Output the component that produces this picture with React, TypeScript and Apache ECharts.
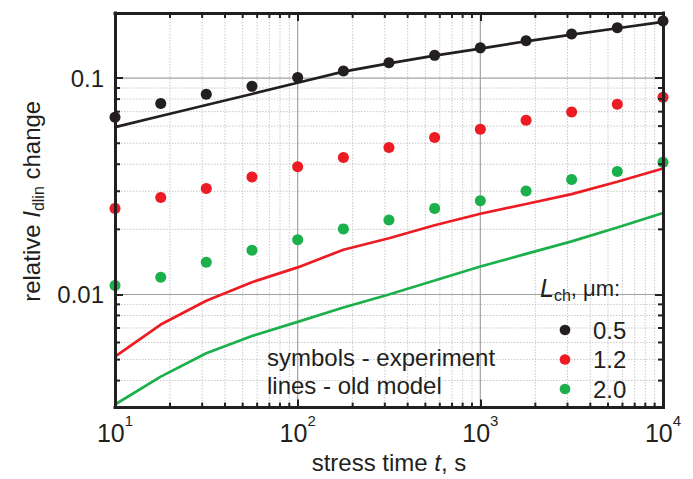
import React, { useEffect, useRef } from 'react';
import * as echarts from 'echarts';

// stress time t, s (quarter-decade steps)
const stressTime = [10, 17.8, 31.6, 56.2, 100, 178, 316, 562, 1000, 1780, 3160, 5620, 10000];

// symbols - experiment (relative I_dlin change)
const exp05 = [0.066, 0.0763, 0.0843, 0.0916, 0.1006, 0.108, 0.1177, 0.1274, 0.138, 0.149, 0.16, 0.171, 0.1836];
const exp12 = [0.025, 0.0281, 0.0309, 0.0349, 0.0389, 0.043, 0.0478, 0.0531, 0.058, 0.0639, 0.0697, 0.0757, 0.0815];
const exp20 = [0.011, 0.012, 0.0141, 0.016, 0.0179, 0.0201, 0.0221, 0.025, 0.0271, 0.0301, 0.034, 0.037, 0.0408];

// lines - old model
const model05 = [0.0594, 0.0668, 0.0751, 0.0845, 0.0952, 0.1071, 0.117, 0.127, 0.137, 0.148, 0.159, 0.17, 0.182];
const model12 = [0.00516, 0.00726, 0.00935, 0.0114, 0.01334, 0.0161, 0.0182, 0.0209, 0.0236, 0.0262, 0.0291, 0.0332, 0.0382];
const model20 = [0.0031, 0.00417, 0.00535, 0.00643, 0.00747, 0.0087, 0.01, 0.0116, 0.01347, 0.0154, 0.0176, 0.0204, 0.0238];

const channelLengths = ['0.5', '1.2', '2.0'];

const xRange = [10, 10000];
const yRange = [0.003, 0.2];
const xMajor = [100, 1000];
const yMajor = [0.01, 0.1];
const xMinor = [20, 30, 40, 50, 60, 70, 80, 90, 200, 300, 400, 500, 600, 700, 800, 900, 2000, 3000, 4000, 5000, 6000, 7000, 8000, 9000];
const yMinor = [0.004, 0.005, 0.006, 0.007, 0.008, 0.009, 0.02, 0.03, 0.04, 0.05, 0.06, 0.07, 0.08, 0.09];

const FONT = "'Liberation Sans', Arial, Helvetica, sans-serif";
const BLACK = '#231f20';
const RED = '#ed1c24';
const GREEN = '#1bb04b';
const COLORS = [BLACK, RED, GREEN];

const isPow10 = (v: number) => {
  const l = Math.log10(v);
  return Math.abs(l - Math.round(l)) < 1e-6;
};

export default function App() {
  const ref = useRef<HTMLDivElement>(null);

  useEffect(() => {
    const chart = echarts.init(ref.current as HTMLDivElement, null, { renderer: 'svg' });

    const axisLine = { show: true, onZero: false, lineStyle: { color: BLACK, width: 3, cap: 'square' } };
    const axisTick = { show: true, inside: true, length: 8, lineStyle: { color: BLACK, width: 2 } };

    const expSets = [exp05, exp12, exp20];
    const modelSets = [model05, model12, model20];

    const series: any[] = [];
    modelSets.forEach((m, i) => {
      series.push({
        type: 'line',
        name: 'model ' + channelLengths[i],
        data: stressTime.map((t, j) => [t, m[j]]),
        showSymbol: false,
        symbol: 'none',
        lineStyle: { color: COLORS[i], width: 2.7, opacity: 1 },
        z: 3,
      });
    });
    expSets.forEach((e, i) => {
      series.push({
        type: 'scatter',
        name: channelLengths[i],
        data: stressTime.map((t, j) => [t, e[j]]),
        symbol: 'circle',
        symbolSize: 11,
        itemStyle: { color: COLORS[i], opacity: 1 },
        clip: true,
        z: 4,
      });
    });

    chart.setOption({
      animation: false,
      grid: { left: 115, top: 13, width: 548, height: 400 },
      xAxis: [
        {
          type: 'log',
          min: xRange[0],
          max: xRange[1],
          position: 'bottom',
          axisLine,
          axisTick,
          splitLine: { show: false },
          axisLabel: {
            margin: 5,
            formatter: (v: number) => (isPow10(v) ? `{b|10}{s|${Math.round(Math.log10(v))}}` : ''),
            rich: {
              b: { fontFamily: FONT, fontSize: 25, color: BLACK, lineHeight: 40 },
              s: { fontFamily: FONT, fontSize: 15, color: BLACK, lineHeight: 11, verticalAlign: 'top' },
            },
          },
          name: 'stress time {i|t}, s',
          nameLocation: 'middle',
          nameGap: 42,
          nameTextStyle: {
            fontFamily: FONT,
            fontSize: 24,
            color: BLACK,
            rich: {
              i: { fontFamily: FONT, fontSize: 24, fontStyle: 'italic', color: BLACK },
            },
          },
          z: 10,
        },
        {
          type: 'log',
          min: xRange[0],
          max: xRange[1],
          position: 'top',
          axisLine,
          axisTick,
          splitLine: { show: false },
          axisLabel: { show: false },
          z: 10,
        },
      ],
      yAxis: [
        {
          type: 'log',
          min: yRange[0],
          max: yRange[1],
          position: 'left',
          axisLine,
          axisTick,
          splitLine: { show: false },
          axisLabel: {
            margin: 11,
            fontFamily: FONT,
            fontSize: 24,
            color: BLACK,
            formatter: (v: number) => (isPow10(v) ? String(Number(v.toPrecision(6))) : ''),
          },
          name: 'relative {i|I}{sub|dlin} change',
          nameLocation: 'middle',
          nameRotate: 90,
          nameGap: 64,
          nameTextStyle: {
            fontFamily: FONT,
            fontSize: 24,
            color: BLACK,
            lineHeight: 30,
            padding: [0, 0, 0, 18],
            rich: {
              i: { fontFamily: FONT, fontSize: 24, fontStyle: 'italic', color: BLACK, lineHeight: 30 },
              sub: { fontFamily: FONT, fontSize: 16, color: BLACK, lineHeight: 16, verticalAlign: 'bottom' },
            },
          },
          z: 10,
        },
        {
          type: 'log',
          min: yRange[0],
          max: yRange[1],
          position: 'right',
          axisLine,
          axisTick,
          splitLine: { show: false },
          axisLabel: { show: false },
          z: 10,
        },
      ],
      series,
    });

    const px = (v: number) => chart.convertToPixel({ xAxisIndex: 0 }, v) as number;
    const py = (v: number) => chart.convertToPixel({ yAxisIndex: 0 }, v) as number;
    const left = px(xRange[0]);
    const right = px(xRange[1]);
    const top = py(yRange[1]);
    const bottom = py(yRange[0]);

    const graphics: any[] = [];
    const minorStyle = { stroke: '#c9c9c9', lineWidth: 1, lineDash: [1.5, 1.5] };
    const majorStyle = { stroke: '#a3a3a3', lineWidth: 1.2 };
    const tickStyle = { stroke: BLACK, lineWidth: 2 };

    xMinor.forEach((v) => {
      const X = px(v);
      graphics.push({ type: 'line', silent: true, z: 1, shape: { x1: X, y1: top, x2: X, y2: bottom }, style: minorStyle });
      graphics.push({ type: 'line', silent: true, z: 20, shape: { x1: X, y1: bottom, x2: X, y2: bottom - 5 }, style: tickStyle });
      graphics.push({ type: 'line', silent: true, z: 20, shape: { x1: X, y1: top, x2: X, y2: top + 5 }, style: tickStyle });
    });
    yMinor.forEach((v) => {
      const Y = py(v);
      graphics.push({ type: 'line', silent: true, z: 1, shape: { x1: left, y1: Y, x2: right, y2: Y }, style: minorStyle });
      graphics.push({ type: 'line', silent: true, z: 20, shape: { x1: left, y1: Y, x2: left + 5, y2: Y }, style: tickStyle });
      graphics.push({ type: 'line', silent: true, z: 20, shape: { x1: right, y1: Y, x2: right - 5, y2: Y }, style: tickStyle });
    });
    xMajor.forEach((v) => {
      const X = px(v);
      graphics.push({ type: 'line', silent: true, z: 2, shape: { x1: X, y1: top, x2: X, y2: bottom }, style: majorStyle });
    });
    yMajor.forEach((v) => {
      const Y = py(v);
      graphics.push({ type: 'line', silent: true, z: 2, shape: { x1: left, y1: Y, x2: right, y2: Y }, style: majorStyle });
    });

    // annotation
    graphics.push({
      type: 'text', z: 30, x: 267, y: 357,
      style: { text: 'symbols - experiment', fill: BLACK, fontFamily: FONT, fontSize: 24, align: 'left', verticalAlign: 'middle' },
    });
    graphics.push({
      type: 'text', z: 30, x: 267, y: 385,
      style: { text: 'lines - old model', fill: BLACK, fontFamily: FONT, fontSize: 24, align: 'left', verticalAlign: 'middle' },
    });

    // legend
    graphics.push({
      type: 'text', z: 30, x: 540, y: 273,
      style: {
        text: '{L|L}{c|ch}{r|, μm:}',
        fill: BLACK,
        fontFamily: FONT,
        fontSize: 24,
        align: 'left',
        verticalAlign: 'top',
        rich: {
          L: { fontFamily: FONT, fontSize: 25, fontStyle: 'italic', fill: BLACK, lineHeight: 30 },
          c: { fontFamily: FONT, fontSize: 16, fill: BLACK, lineHeight: 16, verticalAlign: 'bottom' },
          r: { fontFamily: FONT, fontSize: 22, fill: BLACK, lineHeight: 30 },
        },
      },
    });
    const legendY = [330, 359.5, 389];
    channelLengths.forEach((name, i) => {
      graphics.push({ type: 'circle', z: 30, shape: { cx: 565, cy: legendY[i], r: 5.3 }, style: { fill: COLORS[i] } });
      graphics.push({
        type: 'text', z: 30, x: 593, y: legendY[i],
        style: { text: name, fill: BLACK, fontFamily: FONT, fontSize: 24, align: 'left', verticalAlign: 'middle' },
      });
    });

    chart.setOption({ graphic: graphics });

    return () => {
      chart.dispose();
    };
  }, []);

  return (
    <div
      ref={ref}
      style={{ position: 'fixed', left: 0, top: 0, width: 693, height: 479, background: '#ffffff' }}
    />
  );
}
